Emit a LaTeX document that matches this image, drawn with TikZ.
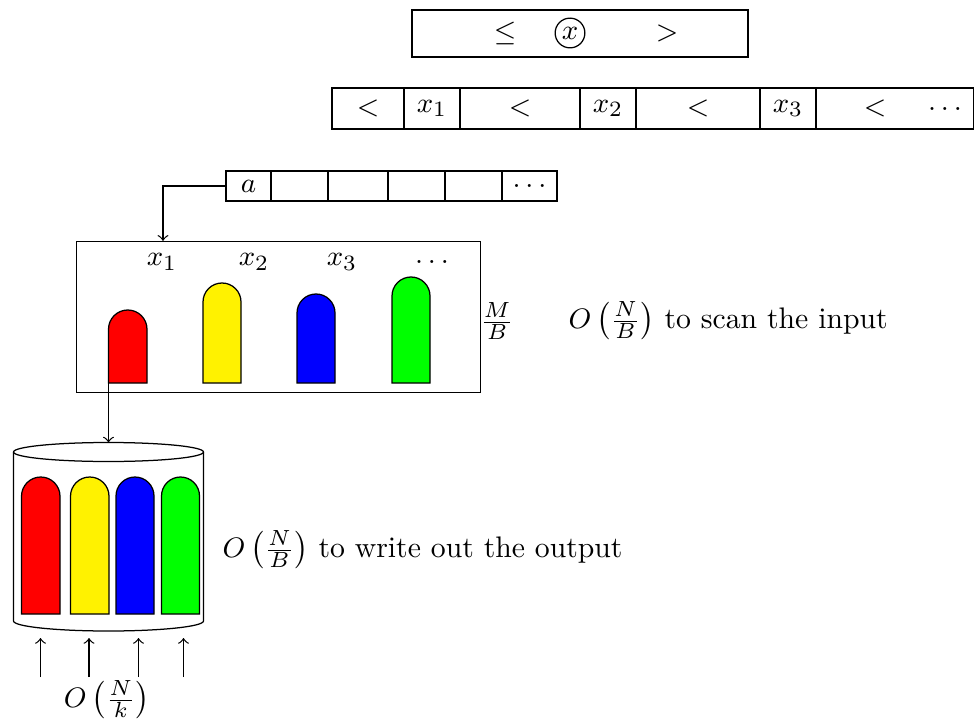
\documentclass[tikz,border=0pt]{standalone}
\usetikzlibrary{fit}
\tikzset{
  every node/.style={font=\fontsize{9.5}{11.5}\selectfont},
  cellbox/.style={draw, inner sep=0pt, fit={#1}},
  membar/.style={draw, line width=0.4pt},
  lbl/.style={inner sep=0pt},
}
\newcommand\drawcolbar[6]{% name, x1, x2, top, bottom, colour
  \pgfmathsetmacro\rr{(#3-#2)/2}
  \filldraw[membar, fill=#6] (#2,#5) -- (#2,#4+\rr) arc[start angle=180, end angle=360, radius=\rr] -- (#3,#5) -- cycle;
  \coordinate (#1bl) at (#2,#5);
}
\begin{document}
\begin{tikzpicture}[x=0.01123cm, y=-0.01123cm]
\useasboundingbox (0,0) rectangle (974,722);

% top box
\node[cellbox={(412,10)(748,57)}] (topbox) {};
\node[lbl] (le) at (505,33) {$\leq$};
\node[draw, circle, inner sep=0.5pt, minimum size=9.5pt] (cx) at (570,33) {$x$};
\node[lbl] (gt) at (667,33) {$>$};

% second row
\node[cellbox={(332,88)(404,129)}] (r1) {};
\node[cellbox={(404,88)(460,129)}] (r2) {};
\node[cellbox={(460,88)(580,129)}] (r3) {};
\node[cellbox={(580,88)(636,129)}] (r4) {};
\node[cellbox={(636,88)(760,129)}] (r5) {};
\node[cellbox={(760,88)(816,129)}] (r6) {};
\node[cellbox={(816,88)(973.5,129)}] (r7) {};
\node[lbl] (t1) at (r1.center) {$<$};
\node[lbl] (t2) at (r2.center) {$x_1$};
\node[lbl] (t3) at (r3.center) {$<$};
\node[lbl] (t4) at (r4.center) {$x_2$};
\node[lbl] (t5) at (r5.center) {$<$};
\node[lbl] (t6) at (r6.center) {$x_3$};
\node[lbl] (r7a) at (875,108.5) {$<$};
\node[lbl] (r7b) at (945,108.5) {$\dots$};

% third row (buffer)
\node[cellbox={(226,171)(271,201)}] (ca) {};
\node[cellbox={(271,171)(328,201)}] (cb) {};
\node[cellbox={(328,171)(388,201)}] (cc) {};
\node[cellbox={(388,171)(445,201)}] (cd) {};
\node[cellbox={(445,171)(502,201)}] (ce) {};
\node[cellbox={(502,171)(557,201)}] (cf) {};
\node[lbl] (ta) at (ca.center) {$a$};
\node[lbl] (tf) at (cf.center) {$\dots$};

% memory box
\node[cellbox={(76.5,241.5)(480.5,392.5)}] (mem) {};
\coordinate (turn) at (163,186);
\draw[->] (ca.west) -| (mem.north -| turn);

\node[lbl] (m1) at (162,262) {$x_1$};
\node[lbl] (m2) at (254,262) {$x_2$};
\node[lbl] (m3) at (342,262) {$x_3$};
\node[lbl] (m4) at (432,262) {$\dots$};

\drawcolbar{mred}{108.5}{147}{310}{383}{red}
\drawcolbar{myel}{203}{241}{283}{383}{yellow}
\drawcolbar{mblu}{297}{335}{294}{383}{blue}
\drawcolbar{mgrn}{392}{430}{277}{383}{green}

\node[lbl] (mb) at (497,321) {$\frac{M}{B}$};
\node[lbl, anchor=west] (scan) at (568,321) {$O\left(\frac{N}{B}\right)$ to scan the input};

% disk cylinder
\coordinate (cyltop) at (108.5,442.5);
\draw (13.5,452) -- (13.5,621) arc[start angle=180, end angle=0, x radius=95, y radius=10] -- (203.5,452);
\draw (108.5,452) ellipse[x radius=95, y radius=9.5];
\draw[->] (mredbl) -- (cyltop);

\drawcolbar{dred}{21.5}{60}{477}{614}{red}
\drawcolbar{dyel}{70.5}{109}{477}{614}{yellow}
\drawcolbar{dblu}{116}{154}{477}{614}{blue}
\drawcolbar{dgrn}{161.5}{199.5}{477}{614}{green}

\node[lbl, anchor=west] (write) at (222,550) {$O\left(\frac{N}{B}\right)$ to write out the output};

% arrows below
\foreach \i/\xx in {1/40.5,2/89,3/138.5,4/183.5}{
  \coordinate (s\i) at (\xx,677);
  \coordinate (e\i) at (\xx,638);
  \draw[->] (s\i) -- (e\i);
}
\node[lbl] (nk) at (107,700) {$O\left(\frac{N}{k}\right)$};
\end{tikzpicture}
\end{document}
